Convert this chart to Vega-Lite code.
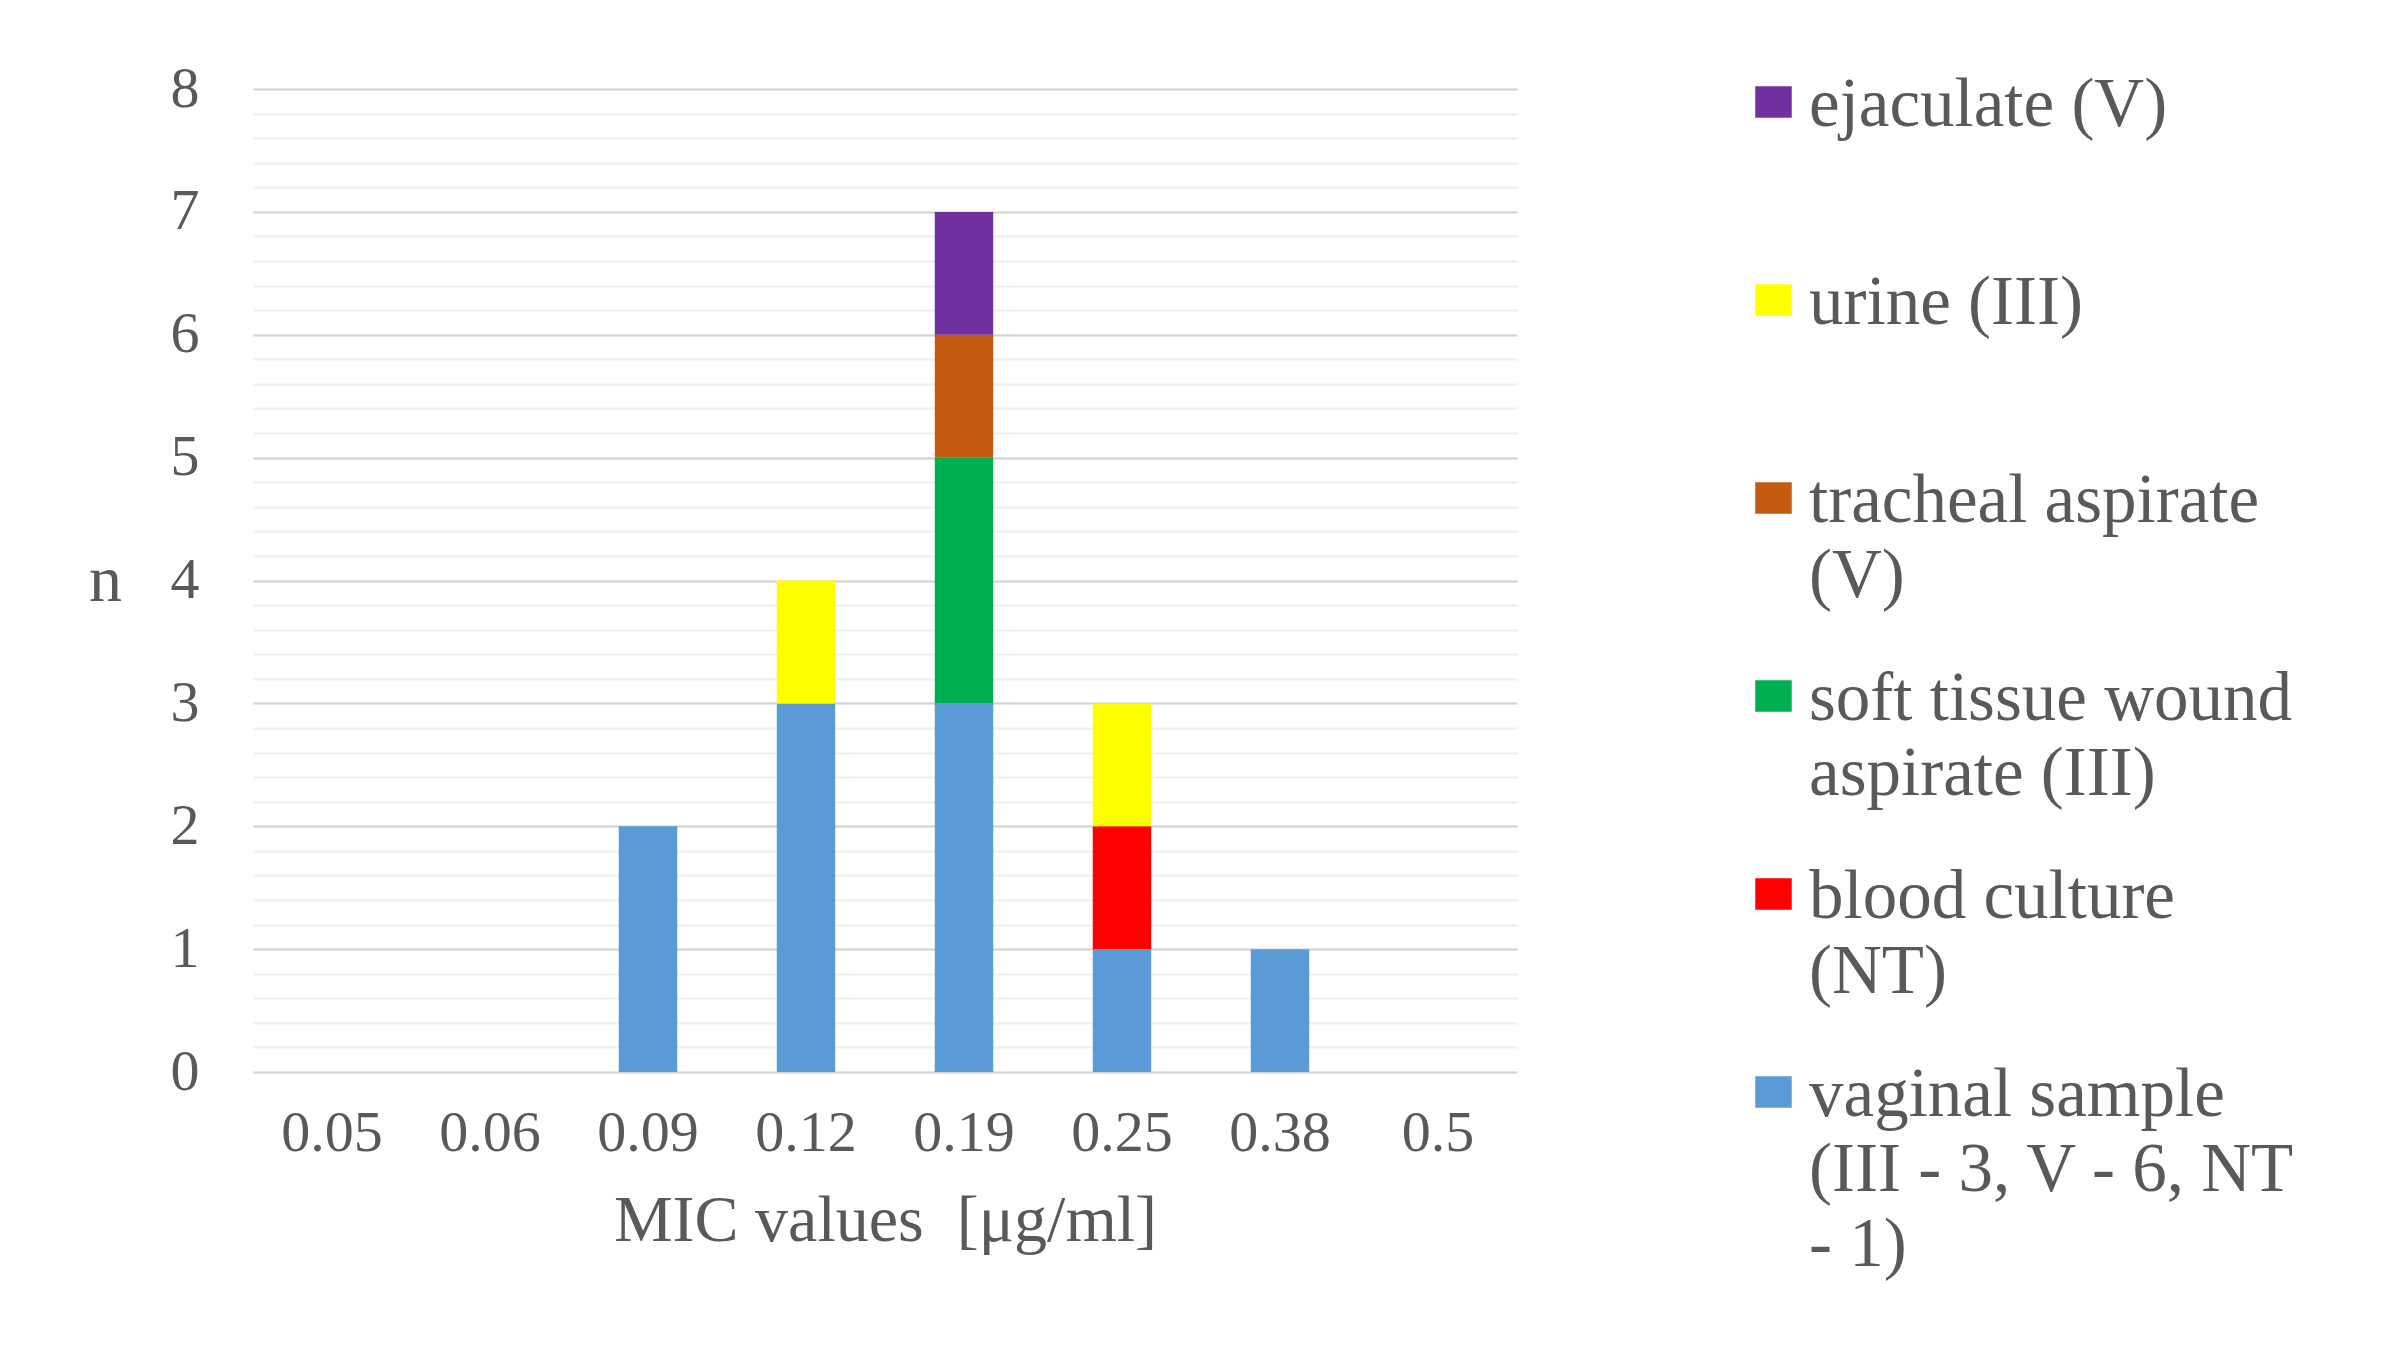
{
  "$schema": "https://vega.github.io/schema/vega-lite/v6.json",
  "description": "MIC values by sample type, stacked bars.",
  "autosize": "none",
  "padding": {"left": 253, "top": 89, "right": 890, "bottom": 275},
  "width": 1264,
  "height": 983,
  "background": "white",
  "data": {
    "values": [
      {"mic": "0.09", "sample": "vaginal sample|(III - 3, V - 6, NT|- 1)", "k": 1, "n": 2},
      {"mic": "0.12", "sample": "vaginal sample|(III - 3, V - 6, NT|- 1)", "k": 1, "n": 3},
      {"mic": "0.12", "sample": "urine (III)", "k": 5, "n": 1},
      {"mic": "0.19", "sample": "vaginal sample|(III - 3, V - 6, NT|- 1)", "k": 1, "n": 3},
      {"mic": "0.19", "sample": "soft tissue wound|aspirate (III)", "k": 3, "n": 2},
      {"mic": "0.19", "sample": "tracheal aspirate|(V)", "k": 4, "n": 1},
      {"mic": "0.19", "sample": "ejaculate (V)", "k": 6, "n": 1},
      {"mic": "0.25", "sample": "vaginal sample|(III - 3, V - 6, NT|- 1)", "k": 1, "n": 1},
      {"mic": "0.25", "sample": "blood culture|(NT)", "k": 2, "n": 1},
      {"mic": "0.25", "sample": "urine (III)", "k": 5, "n": 1},
      {"mic": "0.38", "sample": "vaginal sample|(III - 3, V - 6, NT|- 1)", "k": 1, "n": 1}
    ]
  },
  "mark": {"type": "bar"},
  "encoding": {
    "x": {
      "field": "mic",
      "type": "nominal",
      "title": "MIC values\u00a0 [μg/ml]",
      "scale": {
        "domain": ["0.05", "0.06", "0.09", "0.12", "0.19", "0.25", "0.38", "0.5"],
        "paddingInner": 0.63,
        "paddingOuter": 0.315
      },
      "axis": {
        "labelAngle": 0,
        "ticks": false,
        "domain": false,
        "labelPadding": 32,
        "titlePadding": 26
      }
    },
    "y": {
      "field": "n",
      "type": "quantitative",
      "aggregate": "sum",
      "stack": "zero",
      "title": "n",
      "scale": {"domain": [0, 8], "nice": false},
      "axis": {
        "values": [0, 0.2, 0.4, 0.6, 0.8, 1, 1.2, 1.4, 1.6, 1.8, 2, 2.2, 2.4, 2.6, 2.8, 3, 3.2, 3.4, 3.6, 3.8, 4, 4.2, 4.4, 4.6, 4.8, 5, 5.2, 5.4, 5.6, 5.8, 6, 6.2, 6.4, 6.6, 6.8, 7, 7.2, 7.4, 7.6, 7.8, 8],
        "labelExpr": "datum.value % 1 === 0 ? format(datum.value, 'd') : ''",
        "gridColor": {"condition": {"test": "datum.value % 1 === 0", "value": "#d0d0d0"}, "value": "#eeeeee"},
        "gridWidth": 2,
        "ticks": false,
        "domain": false,
        "labelPadding": 54,
        "titleAngle": 0,
        "titleAlign": "center",
        "titleBaseline": "middle",
        "titleX": -148,
        "titleY": 491
      }
    },
    "color": {
      "field": "sample",
      "type": "nominal",
      "title": null,
      "scale": {
        "domain": ["ejaculate (V)", "urine (III)", "tracheal aspirate|(V)", "soft tissue wound|aspirate (III)", "blood culture|(NT)", "vaginal sample|(III - 3, V - 6, NT|- 1)"],
        "range": ["#7030a0", "#ffff00", "#c55a11", "#00b050", "#ff0000", "#5b9bd5"]
      },
      "legend": {
        "orient": "none",
        "legendX": 1486,
        "legendY": -53,
        "symbolType": "M-1.1,0.95H1.1V2.85H-1.1Z",
        "symbolSize": 1100,
        "symbolStrokeWidth": 0,
        "labelExpr": "indexof(datum.label, '|') < 0 ? [datum.label, ' '] : split(datum.label, '|')",
        "labelLimit": 0,
        "labelFontSize": 69,
        "labelBaseline": "top",
        "labelOffset": 1,
        "gridAlign": "each",
        "rowPadding": 19,
        "columns": 1
      }
    },
    "order": {"field": "k", "type": "quantitative"}
  },
  "config": {
    "view": {"stroke": null},
    "font": "Liberation Serif",
    "axis": {
      "labelFont": "Liberation Serif",
      "labelFontSize": 58,
      "labelColor": "#595959",
      "titleFont": "Liberation Serif",
      "titleFontSize": 66,
      "titleFontWeight": "normal",
      "titleColor": "#595959"
    },
    "legend": {
      "labelFont": "Liberation Serif",
      "labelColor": "#595959"
    },
    "style": {"guide-label": {"lineHeight": 75}}
  }
}
